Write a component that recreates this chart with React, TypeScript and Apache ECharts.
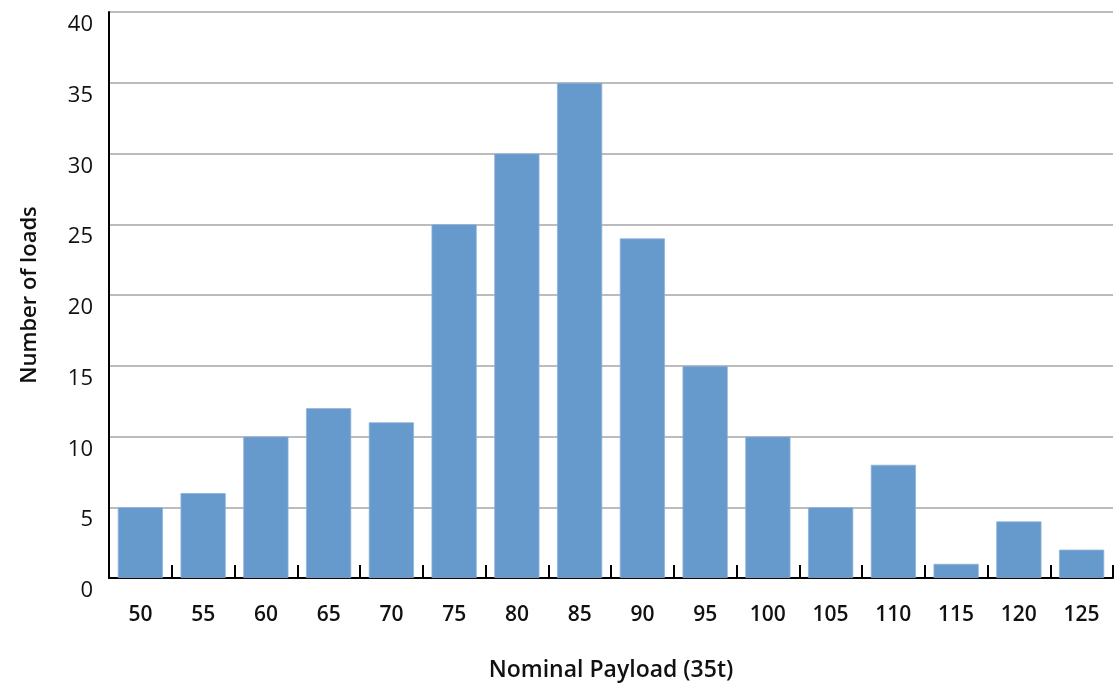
import React, { useEffect, useRef } from "react";
import * as echarts from "echarts";

const categories = ["50", "55", "60", "65", "70", "75", "80", "85", "90", "95", "100", "105", "110", "115", "120", "125"];
const loads = [5, 6, 10, 12, 11, 25, 30, 35, 24, 15, 10, 5, 8, 1, 4, 2];
const xTitle = "Nominal Payload (35t)";
const yTitle = "Number of loads";

export default function App() {
  const ref = useRef<HTMLDivElement>(null);
  useEffect(() => {
    document.body.style.margin = "0";
    document.body.style.overflow = "hidden";
    const chart = echarts.init(ref.current!, null, { renderer: "svg" });
    const font = "'Open Sans', 'Noto Sans', sans-serif";
    chart.setOption({
      animation: false,
      textStyle: { fontFamily: font },
      grid: { left: 109, right: 5, top: 12, bottom: 109, containLabel: false },
      xAxis: {
        type: "category",
        data: categories,
        name: xTitle,
        nameLocation: "middle",
        nameGap: 78,
        nameTextStyle: { fontSize: 23, fontWeight: 600, color: "#111", fontFamily: font },
        axisLine: { show: true, lineStyle: { color: "#000", width: 2 } },
        axisTick: { show: true, inside: true, length: 13, lineStyle: { color: "#000", width: 2 } },
        axisLabel: { fontSize: 21, fontWeight: 600, color: "#111", margin: 24, fontFamily: font },
      },
      yAxis: {
        type: "value",
        min: 0,
        max: 40,
        interval: 5,
        name: yTitle,
        nameLocation: "middle",
        nameGap: 71,
        nameTextStyle: { fontSize: 22, fontWeight: 600, color: "#111", fontFamily: font },
        axisLine: { show: true, lineStyle: { color: "#000", width: 2 } },
        axisTick: { show: false },
        axisLabel: { fontSize: 22, color: "#111", margin: 16, verticalAlign: "top", lineHeight: 20, fontFamily: font },
        splitLine: { show: true, lineStyle: { color: "#a6a6a6", width: 1.5 } },
      },
      series: [
        {
          type: "bar",
          data: loads,
          barCategoryGap: "28%",
          itemStyle: { color: "#6699cc", borderColor: "#8fb3db", borderWidth: 0.8 },
        },
      ],
    });
    return () => chart.dispose();
  }, []);
  return <div ref={ref} style={{ position: "fixed", left: 0, top: 0, width: 1118, height: 687 }} />;
}
